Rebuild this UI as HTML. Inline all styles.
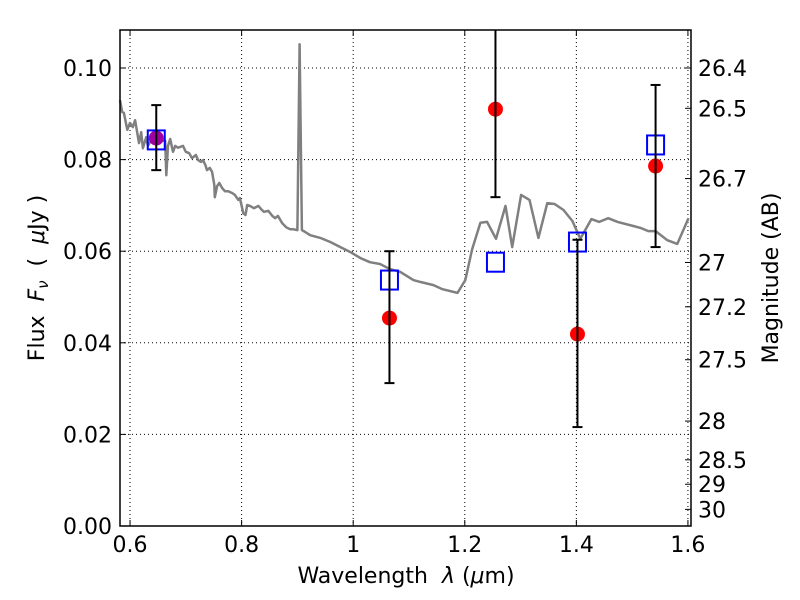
<!DOCTYPE html>
<html><head><meta charset="utf-8"><style>
body{margin:0;background:#fff;}
svg{display:block;font-family:"DejaVu Sans","Liberation Sans",sans-serif;}
</style></head><body>
<svg id="chart" width="800" height="600" viewBox="0 0 800 600">
<rect x="0" y="0" width="800" height="600" fill="#fff"/>
<g id="grid"></g>
<g id="spec"></g>
<g id="marks"></g>
<rect x="120" y="30" width="571" height="496" fill="none" stroke="#000" stroke-width="1.5"/>
<g id="axes"></g>
<text x="406" y="583" font-size="22" text-anchor="middle">Wavelength&#160;&#160;<tspan font-style="italic">λ</tspan>&#160;(<tspan font-style="italic">μ</tspan>m)</text>
<text transform="translate(44,278) rotate(-90)" font-size="22" text-anchor="middle">Flux&#160;&#160;<tspan font-style="italic">F<tspan font-size="15" dy="4">ν</tspan></tspan><tspan dy="-4">&#160;&#160;(&#160;&#160;</tspan><tspan font-style="italic">μ</tspan>Jy&#160;)</text>
<text transform="translate(778,278) rotate(-90)" font-size="22" text-anchor="middle">Magnitude (AB)</text>
</svg>
<script>
const specLam=[0.582,0.586,0.589,0.595,0.600,0.605,0.609,0.613,0.616,0.620,0.623,0.629,0.632,0.639,0.645,0.663,0.665,0.668,0.672,0.677,0.681,0.686,0.695,0.700,0.706,0.711,0.718,0.722,0.727,0.731,0.735,0.738,0.743,0.747,0.751,0.752,0.756,0.760,0.765,0.770,0.776,0.783,0.788,0.794,0.797,0.803,0.807,0.810,0.815,0.822,0.830,0.835,0.840,0.848,0.855,0.860,0.865,0.873,0.880,0.887,0.892,0.900,0.904,0.908,0.914,0.923,0.941,0.959,0.977,0.995,1.013,1.030,1.048,1.066,1.084,1.108,1.120,1.144,1.160,1.187,1.201,1.213,1.228,1.240,1.256,1.273,1.285,1.301,1.316,1.332,1.348,1.361,1.377,1.393,1.407,1.427,1.441,1.457,1.474,1.502,1.515,1.529,1.542,1.563,1.581,1.601];
const specFlux=[0.0930,0.0904,0.0902,0.0865,0.0880,0.0871,0.0886,0.0858,0.0836,0.0860,0.0825,0.0849,0.0830,0.0845,0.0841,0.0841,0.0766,0.0830,0.0845,0.0817,0.0830,0.0826,0.0830,0.0817,0.0814,0.0803,0.0810,0.0799,0.0795,0.0799,0.0788,0.0777,0.0782,0.0773,0.0745,0.0718,0.0742,0.0749,0.0738,0.0731,0.0731,0.0727,0.0723,0.0712,0.0716,0.0683,0.0679,0.0701,0.0699,0.0694,0.0699,0.0692,0.0686,0.0688,0.0677,0.0672,0.0677,0.0661,0.0652,0.0648,0.0648,0.0646,0.1052,0.0646,0.0642,0.0635,0.0629,0.0620,0.0609,0.0598,0.0585,0.0576,0.0572,0.0561,0.0555,0.0537,0.0533,0.0526,0.0517,0.0509,0.0537,0.0603,0.0662,0.0664,0.0627,0.0699,0.0609,0.0723,0.0712,0.0629,0.0705,0.0703,0.0690,0.0666,0.0627,0.0670,0.0664,0.0672,0.0664,0.0655,0.0651,0.0644,0.0644,0.0624,0.0616,0.0672];
const obsLam=[0.647,1.065,1.255,1.402,1.542];
const obsFlux=[0.0847,0.0454,0.0910,0.0419,0.0786];
const errLo=[0.0777,0.0312,0.0718,0.0216,0.0609];
const errHi=[0.0919,0.0600,0.1120,0.0625,0.0963];
const modLam=[0.647,1.065,1.255,1.402,1.542];
const modFlux=[0.0843,0.0537,0.0576,0.0620,0.0832];
const xTicks=[0.6,0.8,1.0,1.2,1.4,1.6];
const xTickLabels=["0.6","0.8","1","1.2","1.4","1.6"];
const yTicks=[0,0.02,0.04,0.06,0.08,0.10];
const yTickLabels=["0.00","0.02","0.04","0.06","0.08","0.10"];
const magTicks=[26.4,26.5,26.7,27,27.2,27.5,28,28.5,29,30];
const magLabels=["26.4","26.5","26.7","27","27.2","27.5","28","28.5","29","30"];

const X0=120,X1=691,Y0=526,Y1=30;
const xmin=0.582,xmax=1.6055,ymin=0,ymax=0.1083;
const sx=v=>X0+(v-xmin)/(xmax-xmin)*(X1-X0);
const sy=v=>Y0-(v-ymin)/(ymax-ymin)*(Y0-Y1);
const NS="http://www.w3.org/2000/svg";
function mk(tag,attrs,parent){const e=document.createElementNS(NS,tag);for(const k in attrs)e.setAttribute(k,attrs[k]);parent.appendChild(e);return e;}
const grid=document.getElementById('grid'),axes=document.getElementById('axes'),spec=document.getElementById('spec'),marks=document.getElementById('marks');
xTicks.forEach((t,i)=>{const x=sx(t);
 const g=mk('line',{x1:x,x2:x,y1:Y1,y2:Y0,stroke:'#000','stroke-width':1,'stroke-dasharray':'1,3'},grid);
 
 
 mk('line',{x1:x,x2:x,y1:Y0,y2:Y0-6,stroke:'#000'},axes);
 mk('line',{x1:x,x2:x,y1:Y1,y2:Y1+6,stroke:'#000'},axes);
 const tx=mk('text',{x:x,y:552,'font-size':22,'text-anchor':'middle'},axes);tx.textContent=xTickLabels[i];
 
 
});
yTicks.forEach((t,i)=>{const y=sy(t);
 if(i>0){const g=mk('line',{x1:X0,x2:X1,y1:y,y2:y,stroke:'#000','stroke-width':1,'stroke-dasharray':'1,3'},grid);
 
 }
 mk('line',{x1:X0,x2:X0+6,y1:y,y2:y,stroke:'#000'},axes);
 const tx=mk('text',{x:112,y:y+8,'font-size':22,'text-anchor':'end'},axes);tx.textContent=yTickLabels[i];
 
 
});
magTicks.forEach((m,i)=>{const f=Math.pow(10,(23.9-m)/2.5);const y=sy(f);
 mk('line',{x1:X1,x2:X1-6,y1:y,y2:y,stroke:'#000'},axes);
 const tx=mk('text',{x:698,y:y+8,'font-size':22},axes);tx.textContent=magLabels[i];
 
 
});
const pts=specLam.map((l,i)=>sx(l).toFixed(1)+','+sy(specFlux[i]).toFixed(1)).join(' ');
const pl=mk('polyline',{points:pts,fill:'none',stroke:'#808080','stroke-width':2.5,'stroke-linejoin':'round'},spec);


obsLam.forEach((l,i)=>{const x=sx(l);
 const c=mk('circle',{cx:x,cy:sy(obsFlux[i]),r:7.5,fill:i===0?'#a000a0':'#ff0000'},marks);
 
 
});
modLam.forEach((l,i)=>{const x=sx(l),y=sy(modFlux[i]);
 const r=mk('rect',{x:x-8.5,y:y-9.5,width:17,height:19,fill:'none',stroke:'#0000ff','stroke-width':2},marks);
 
 
});
obsLam.forEach((l,i)=>{const x=sx(l),yl=sy(errLo[i]),yh=Math.max(sy(errHi[i]),Y1);
 const g=mk('g',{},marks);
 
 
 mk('line',{x1:x,x2:x,y1:yl,y2:yh,stroke:'#000','stroke-width':2},g);
 mk('line',{x1:x-5,x2:x+5,y1:yl,y2:yl,stroke:'#000','stroke-width':2},g);
 if(sy(errHi[i])>Y1)mk('line',{x1:x-5,x2:x+5,y1:yh,y2:yh,stroke:'#000','stroke-width':2},g);
});
</script>
</body></html>
